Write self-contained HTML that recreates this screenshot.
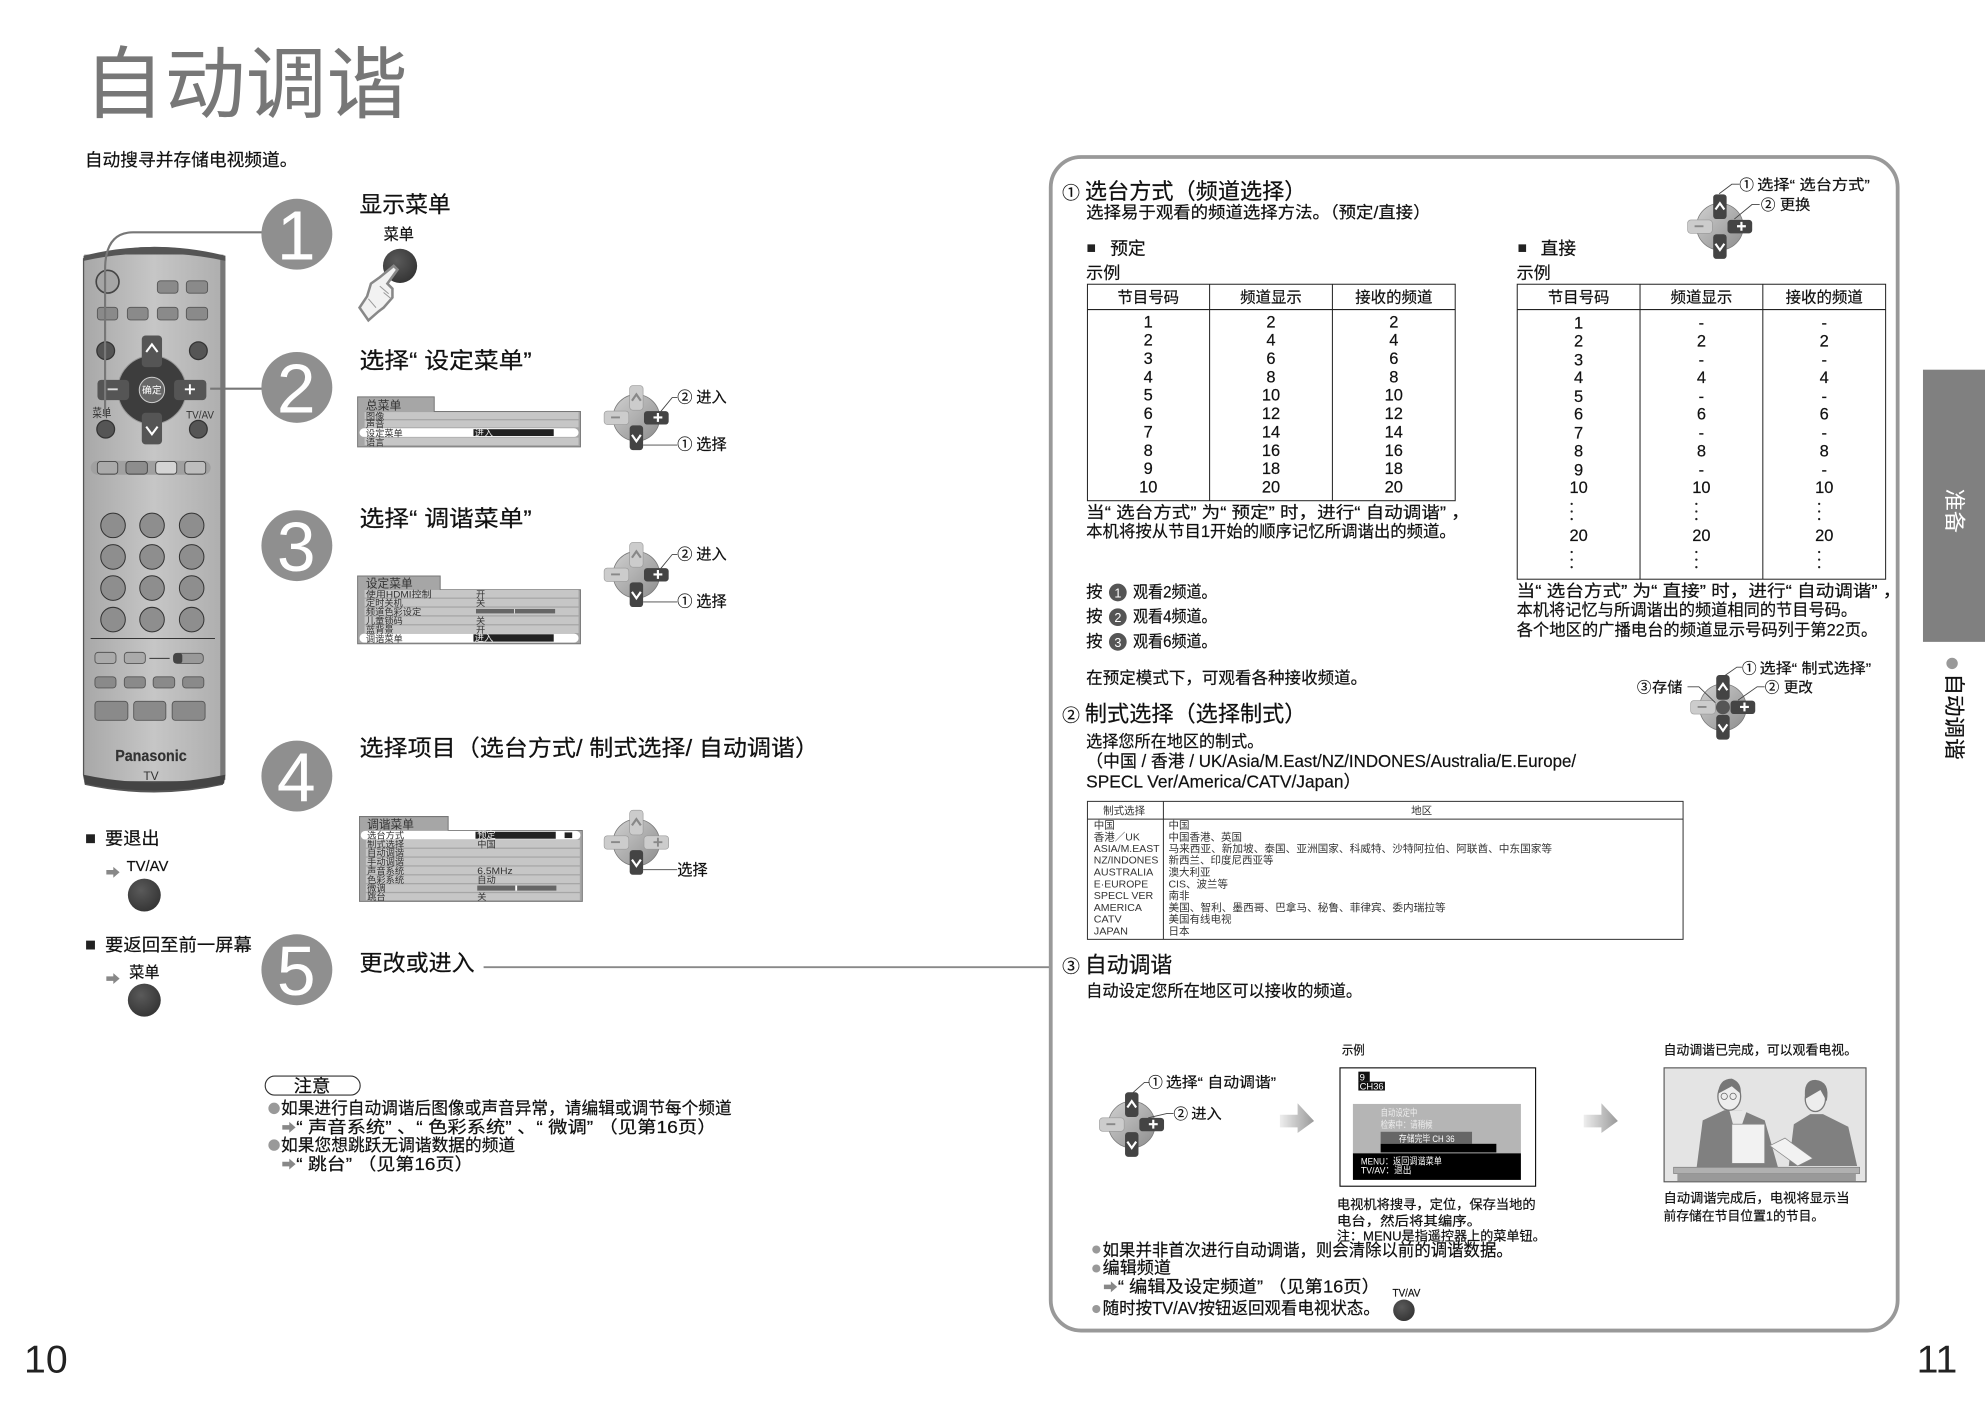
<!DOCTYPE html>
<html lang="zh"><head><meta charset="utf-8"><title>自动调谐</title>
<style>
html,body{margin:0;padding:0;background:#fff}
svg{display:block;font-family:"Liberation Sans","Noto Sans CJK SC",sans-serif;fill:#111}
text{stroke:#111;stroke-width:.16px}
text[style]{stroke:none}
.c{text-anchor:middle}
.m{font-size:7.3px;fill:#333;stroke:none}
.n{font-size:13px}
.h{font-size:12.2px}
.r{font-size:8.3px;fill:#333;stroke:none}
</style></head><body>
<svg xmlns="http://www.w3.org/2000/svg" width="1985" height="1404" viewBox="0 0 1568 1109">
<defs>
<linearGradient id="gb" x1="0" x2="1" y1="0" y2="0"><stop offset="0" stop-color="#a8a8a8"/><stop offset=".5" stop-color="#c6c6c6"/><stop offset="1" stop-color="#aeaeae"/></linearGradient>
<linearGradient id="gc" x1="0" x2="1" y1="0" y2="1"><stop offset="0" stop-color="#d0d0d0"/><stop offset="1" stop-color="#8d8d8d"/></linearGradient>
<linearGradient id="ga" x1="0" x2="1" y1="0" y2="0"><stop offset="0" stop-color="#eee"/><stop offset="1" stop-color="#999"/></linearGradient>
<radialGradient id="gk" cx=".4" cy=".35" r=".8"><stop offset="0" stop-color="#5a5a5a"/><stop offset="1" stop-color="#2e2e2e"/></radialGradient>
<g id="base"><circle r="18.4" fill="url(#gc)" stroke="#777" stroke-width=".6"/></g>
<g id="upD"><rect x="-5.3" y="-25.5" width="10.6" height="19.5" rx="2.5" fill="#444"/><path d="M-3.5-13.5 0-18.5 3.5-13.5" fill="none" stroke="#fff" stroke-width="1.7"/></g>
<g id="upL"><rect x="-5.3" y="-25.5" width="10.6" height="19.5" rx="2.5" fill="#ccc" stroke="#999" stroke-width=".5"/><path d="M-3.5-13.5 0-18.5 3.5-13.5" fill="none" stroke="#888" stroke-width="1.7"/></g>
<g id="dnD"><rect x="-5.3" y="6" width="10.6" height="19.5" rx="2.5" fill="#444"/><path d="M-3.5 13.5 0 18.5 3.5 13.5" fill="none" stroke="#fff" stroke-width="1.7"/></g>
<g id="mnL"><rect x="-25.5" y="-5.3" width="19.5" height="10.6" rx="2.5" fill="#ccc" stroke="#999" stroke-width=".5"/><path d="M-20-.3h7" stroke="#888" stroke-width="1.5"/></g>
<g id="plD"><rect x="6" y="-5.3" width="19.5" height="10.6" rx="2.5" fill="#444"/><path d="M13.5-.3h7M17-3.8v7" stroke="#fff" stroke-width="1.7"/></g>
<g id="plL"><rect x="6" y="-5.3" width="19.5" height="10.6" rx="2.5" fill="#ccc" stroke="#999" stroke-width=".5"/><path d="M13.5-.3h7M17-3.8v7" stroke="#888" stroke-width="1.5"/></g>
<path id="arr" d="M0-1.8h5.5v-2.5L10.5 0 5.5 4.3v-2.5H0z" fill="#888"/>
<path id="bigarr" d="M0-5h14v-9L27 0 14 9.500V5H0z" fill="url(#ga)"/>
</defs>

<!-- title -->
<text x="66" y="88" font-size="62" textLength="256" lengthAdjust="spacingAndGlyphs" style="fill:#777">自动调谐</text>
<text x="67" y="131" font-size="14" textLength="168" lengthAdjust="spacingAndGlyphs">自动搜寻并存储电视频道。</text>

<!-- remote -->
<path d="M65.500 204Q122 186 178 204V612L176 620Q122 632 67 620L65.500 612Z" fill="#555"/>
<rect x="66.500" y="201" width="110" height="416" fill="url(#gb)"/>
<rect x="174" y="202" width="4" height="414" fill="#777"/>
<path d="M66 202Q122 188 178 202V206Q122 194 66 206Z" fill="#555"/>
<path d="M66 612Q122 624 178 612L177 619Q122 630 67 619Z" fill="#444"/>
<circle cx="85" cy="222.500" r="9" fill="#a5a5a5" stroke="#444" stroke-width="1.300"/>
<g fill="#8a8a8a" stroke="#555" stroke-width=".7">
<rect x="124.300" y="221.800" width="16.300" height="9.800" rx="2.500"/><rect x="147.200" y="221.800" width="16.800" height="9.800" rx="2.500"/>
<rect x="76.900" y="242.700" width="16.100" height="10" rx="2.500"/><rect x="100.600" y="242.700" width="16.400" height="10" rx="2.500"/><rect x="124.300" y="242.700" width="16.300" height="10" rx="2.500"/><rect x="147.200" y="242.700" width="16.800" height="10" rx="2.500"/>
</g>
<circle cx="83.500" cy="277" r="7" fill="#555" stroke="#333"/><circle cx="156.700" cy="277" r="7" fill="#555" stroke="#333"/>
<circle cx="120" cy="308" r="27" fill="#3d3d3d" stroke="#999" stroke-width=".8"/>
<rect x="112" y="265" width="16" height="25" rx="3" fill="#555"/><path d="M115.500 278 120 272 124.500 278" fill="none" stroke="#fff" stroke-width="1.600"/>
<rect x="112" y="326" width="16" height="25" rx="3" fill="#555"/><path d="M115.500 337 120 343 124.500 337" fill="none" stroke="#fff" stroke-width="1.600"/>
<rect x="77" y="300" width="25" height="16" rx="3" fill="#555"/><path d="M85 307.500h8" stroke="#ddd" stroke-width="1.500"/>
<rect x="137.500" y="300" width="25.500" height="16" rx="3" fill="#555"/><path d="M146 307.500h8M150 303.500v8" stroke="#fff" stroke-width="1.500"/>
<circle cx="120" cy="308" r="10" fill="#666" stroke="#ccc" stroke-width=".8"/>
<text x="120" y="310.800" class="c" font-size="7.800" style="fill:#fff">确定</text>
<text x="73" y="329.500" font-size="9.500" textLength="15" lengthAdjust="spacingAndGlyphs" style="fill:#333">菜单</text>
<text x="147" y="330.500" font-size="9" textLength="22" lengthAdjust="spacingAndGlyphs" style="fill:#333">TV/AV</text>
<circle cx="83.500" cy="339" r="7" fill="#555" stroke="#333"/><circle cx="156.700" cy="339" r="7" fill="#555" stroke="#333"/>
<rect x="71.600" y="364" width="94.800" height="11" rx="5.500" fill="#a0a0a0"/>
<rect x="76.900" y="364.500" width="16.100" height="10" rx="2.500" fill="#aaa" stroke="#444" stroke-width=".7"/>
<rect x="99.500" y="364.500" width="16.900" height="10" rx="2.500" fill="#8d8d8d" stroke="#444" stroke-width=".7"/>
<rect x="123" y="364.500" width="16.600" height="10" rx="2.500" fill="#d4d4d4" stroke="#444" stroke-width=".7"/>
<rect x="146" y="364.500" width="16.500" height="10" rx="2.500" fill="#bdbdbd" stroke="#444" stroke-width=".7"/>
<g fill="#8e8e8e" stroke="#333" stroke-width=".8">
<circle cx="89.300" cy="415" r="9.700"/><circle cx="120.100" cy="415" r="9.700"/><circle cx="151.400" cy="415" r="9.700"/>
<circle cx="89.300" cy="439.900" r="9.700"/><circle cx="120.100" cy="439.900" r="9.700"/><circle cx="151.400" cy="439.900" r="9.700"/>
<circle cx="89.300" cy="464.500" r="9.700"/><circle cx="120.100" cy="464.500" r="9.700"/><circle cx="151.400" cy="464.500" r="9.700"/>
<circle cx="89.300" cy="489.400" r="9.700"/><circle cx="120.100" cy="489.400" r="9.700"/><circle cx="151.400" cy="489.400" r="9.700"/>
</g>
<path d="M71.600 504.300H169.800" stroke="#333" stroke-width=".8"/>
<path d="M118 520H134" stroke="#333" stroke-width=".8"/>
<g stroke="#555" stroke-width=".7">
<rect x="75" y="515.300" width="16.600" height="8.800" rx="2.500" fill="#aaa"/><rect x="98.200" y="515.300" width="16.600" height="8.800" rx="2.500" fill="#aaa"/>
<rect x="137" y="516" width="23.600" height="8" rx="3" fill="#999"/>
<rect x="75" y="534.600" width="16.600" height="8.800" rx="2.500" fill="#8a8a8a"/><rect x="98.200" y="534.600" width="16.600" height="8.800" rx="2.500" fill="#8a8a8a"/><rect x="121" y="534.600" width="17" height="8.800" rx="2.500" fill="#8a8a8a"/><rect x="144.300" y="534.600" width="16.700" height="8.800" rx="2.500" fill="#8a8a8a"/>
<rect x="75" y="554" width="26" height="15" rx="2.500" fill="#8a8a8a"/><rect x="105.600" y="554" width="25.400" height="15" rx="2.500" fill="#8a8a8a"/><rect x="136" y="554" width="26" height="15" rx="2.500" fill="#8a8a8a"/>
</g>
<rect x="137" y="516" width="7" height="8" rx="2" fill="#444"/>
<text x="91" y="601" font-size="12.500" font-weight="bold" textLength="56.500" lengthAdjust="spacingAndGlyphs" stroke-width=".45" style="fill:#333;stroke:#333">Panasonic</text>
<text x="119.300" y="616" class="c" font-size="9.500" style="fill:#333">TV</text>

<!-- connectors -->
<path d="M207 183.500H105Q83 183.500 83 213V329" fill="none" stroke="#777" stroke-width="1.700"/>
<path d="M166 307H207" stroke="#777" stroke-width="1.700"/>
<path d="M382 764H831" stroke="#888" stroke-width="1.500"/>

<!-- numbered circles -->
<g fill="#8f8f8f">
<circle cx="234.500" cy="185" r="28"/><circle cx="234.500" cy="306" r="28"/><circle cx="234.500" cy="431" r="28"/><circle cx="234.500" cy="613" r="28"/><circle cx="234.500" cy="766" r="28"/>
</g>
<g font-size="55" class="c">
<text x="234" y="205" style="fill:#fff">1</text><text x="234" y="326" style="fill:#fff">2</text><text x="234" y="451" style="fill:#fff">3</text><text x="234" y="633" style="fill:#fff">4</text><text x="234" y="786" style="fill:#fff">5</text>
</g>

<!-- step texts -->
<text x="284" y="168" font-size="18" textLength="72" lengthAdjust="spacingAndGlyphs">显示菜单</text>
<text x="303" y="189" font-size="12" textLength="24" lengthAdjust="spacingAndGlyphs">菜单</text>
<circle cx="316" cy="210" r="13.500" fill="url(#gk)"/>
<path d="M284 243 291 253 299 246 303 243 310 235 310 228 306 224 314 213 311 210 300 219 293 224 290 234Z" fill="#f2f2f2" stroke="#888" stroke-width="2"/>
<path d="M291 236 297 243M300 226 307 232M303 231 309 236" fill="none" stroke="#999" stroke-width=".8"/>
<text x="284" y="291" font-size="18" textLength="136" lengthAdjust="spacingAndGlyphs">选择“ 设定菜单”</text>
<text x="284" y="416" font-size="18" textLength="136" lengthAdjust="spacingAndGlyphs">选择“ 调谐菜单”</text>
<text x="284" y="597" font-size="18" textLength="363" lengthAdjust="spacingAndGlyphs">选择项目（选台方式/ 制式选择/ 自动调谐）</text>
<text x="284" y="767" font-size="18" textLength="91" lengthAdjust="spacingAndGlyphs">更改或进入</text>

<!-- menu 1 -->
<path d="M282.500 353V313.500H343V325H458.500V353Z" fill="#a6a6a6" stroke="#777" stroke-width=".8"/>
<g fill="#c6c6c6"><rect x="288" y="325.500" width="169" height="5.500"/><rect x="288" y="332" width="169" height="5.500"/><rect x="288" y="345.600" width="169" height="6"/></g>
<rect x="284" y="338.300" width="173" height="6.800" rx="3.400" fill="#fff"/>
<rect x="374" y="339" width="63.400" height="5.400" fill="#222"/>
<text x="289" y="323.500" font-size="9.500" textLength="28" lengthAdjust="spacingAndGlyphs" style="fill:#333">总菜单</text>
<text x="289" y="331.200" class="m">图像</text><text x="289" y="337.800" class="m">声音</text><text x="289" y="344.800" class="m">设定菜单</text><text x="289" y="351.800" class="m">语言</text>
<text x="375" y="344.500" class="m" style="fill:#eee">进入</text>

<!-- menu 2 -->
<path d="M282.500 508.500V455H347.700V465.800H458.500V508.500Z" fill="#a6a6a6" stroke="#777" stroke-width=".8"/>
<g fill="#c6c6c6"><rect x="288" y="466" width="169" height="6"/><rect x="288" y="473" width="169" height="6"/><rect x="288" y="480" width="169" height="6"/><rect x="288" y="487" width="169" height="6"/><rect x="288" y="494" width="169" height="6"/></g>
<rect x="284" y="500.500" width="173" height="7" rx="3.500" fill="#fff"/>
<rect x="374" y="501" width="63.400" height="5.800" fill="#222"/>
<text x="289" y="464" font-size="9.500" textLength="37" lengthAdjust="spacingAndGlyphs" style="fill:#333">设定菜单</text>
<text x="289" y="471.800" class="m" textLength="52" lengthAdjust="spacingAndGlyphs">使用HDMI控制</text><text x="289" y="478.800" class="m">定时关机</text><text x="289" y="485.800" class="m">频道色彩设定</text><text x="289" y="492.800" class="m">儿童锁码</text><text x="289" y="499.800" class="m">蓝背景</text><text x="289" y="507" class="m">调谐菜单</text>
<text x="376" y="471.800" class="m">开</text><text x="376" y="478.800" class="m">关</text><text x="376" y="492.800" class="m">关</text><text x="376" y="499.800" class="m">开</text><text x="375" y="506.500" class="m" style="fill:#eee">进入</text>
<rect x="376" y="481" width="62.500" height="3.500" fill="#666"/><rect x="406.200" y="481" width=".6" height="3.500" fill="#fff"/>

<!-- menu 3 -->
<path d="M284 712V645H354V656H460V712Z" fill="#a6a6a6" stroke="#777" stroke-width=".8"/>
<g fill="#c6c6c6"><rect x="289" y="663.500" width="169" height="6"/><rect x="289" y="670.500" width="169" height="6"/><rect x="289" y="677.500" width="169" height="6"/><rect x="289" y="684.500" width="169" height="6"/><rect x="289" y="691.500" width="169" height="6"/><rect x="289" y="698.500" width="169" height="6"/><rect x="289" y="705.500" width="169" height="5.500"/></g>
<rect x="285" y="656.300" width="173.500" height="6.800" rx="3.400" fill="#fff"/>
<rect x="375.600" y="657" width="63.400" height="5.500" fill="#222"/>
<rect x="446" y="657.500" width="6" height="4.500" fill="#222"/>
<text x="290" y="654.500" font-size="9.500" textLength="37" lengthAdjust="spacingAndGlyphs" style="fill:#333">调谐菜单</text>
<text x="290" y="662.500" class="m">选台方式</text><text x="290" y="669.500" class="m">制式选择</text><text x="290" y="676.300" class="m">自动调谐</text><text x="290" y="683.300" class="m">手动调谐</text><text x="290" y="690.300" class="m">声音系统</text><text x="290" y="697.300" class="m">色彩系统</text><text x="290" y="704.300" class="m">微调</text><text x="290" y="710.800" class="m">跳台</text>
<text x="377" y="662" class="m" style="fill:#eee">预定</text><text x="377" y="669.500" class="m">中国</text><text x="377" y="690.300" class="m" textLength="28" lengthAdjust="spacingAndGlyphs">6.5MHz</text><text x="377" y="697.300" class="m">自动</text><text x="377" y="710.800" class="m">关</text>
<rect x="377" y="699.500" width="62.500" height="4" fill="#666"/><rect x="407" y="699.500" width="1.500" height="4" fill="#fff"/>

<!-- dpads step 2,3,4 -->
<g transform="translate(502.700 330)"><use href="#base"/><use href="#upL"/><use href="#mnL"/><use href="#plD"/><use href="#dnD"/></g>
<path d="M522 325 531 314H535M508 351.500H535" fill="none" stroke="#444" stroke-width=".7"/>
<text x="535" y="318" font-size="12">②</text><text x="550" y="318" font-size="12" textLength="24" lengthAdjust="spacingAndGlyphs">进入</text>
<text x="535" y="355" font-size="12">①</text><text x="550" y="355" font-size="12" textLength="24" lengthAdjust="spacingAndGlyphs">选择</text>
<g transform="translate(502.700 454)"><use href="#base"/><use href="#upL"/><use href="#mnL"/><use href="#plD"/><use href="#dnD"/></g>
<path d="M522 449 531 438H535M508 475.500H535" fill="none" stroke="#444" stroke-width=".7"/>
<text x="535" y="442" font-size="12">②</text><text x="550" y="442" font-size="12" textLength="24" lengthAdjust="spacingAndGlyphs">进入</text>
<text x="535" y="479" font-size="12">①</text><text x="550" y="479" font-size="12" textLength="24" lengthAdjust="spacingAndGlyphs">选择</text>
<g transform="translate(502.700 665.500)"><use href="#base"/><use href="#upL"/><use href="#mnL"/><use href="#plL"/><use href="#dnD"/></g>
<path d="M508 687H535" stroke="#444" stroke-width=".7"/>
<text x="535" y="691" font-size="12" textLength="24" lengthAdjust="spacingAndGlyphs">选择</text>

<!-- exit / return -->
<rect x="68" y="659" width="7" height="7" fill="#222"/>
<text x="83" y="667" font-size="14" textLength="43" lengthAdjust="spacingAndGlyphs">要退出</text>
<use href="#arr" x="84" y="689"/>
<text x="100" y="688" font-size="12" textLength="33" lengthAdjust="spacingAndGlyphs">TV/AV</text>
<circle cx="114" cy="707" r="13" fill="url(#gk)"/>
<rect x="68" y="743" width="7" height="7" fill="#222"/>
<text x="83" y="751" font-size="14" textLength="116" lengthAdjust="spacingAndGlyphs">要返回至前一屏幕</text>
<use href="#arr" x="84" y="773"/>
<text x="102" y="772" font-size="12" textLength="24" lengthAdjust="spacingAndGlyphs">菜单</text>
<circle cx="114" cy="790" r="13" fill="url(#gk)"/>

<!-- notes -->
<rect x="209.500" y="850" width="75" height="15" rx="7.500" fill="none" stroke="#333" stroke-width=".9"/>
<text x="232" y="862.500" font-size="14" textLength="29" lengthAdjust="spacingAndGlyphs">注意</text>
<circle cx="216.500" cy="875.500" r="4.500" fill="#999"/>
<text x="222" y="880" font-size="13.500" textLength="356" lengthAdjust="spacingAndGlyphs">如果进行自动调谐后图像或声音异常，请编辑或调节每个频道</text>
<use href="#arr" x="223" y="890.500"/>
<text x="234" y="895" font-size="13.500" textLength="332" lengthAdjust="spacingAndGlyphs">“ 声音系统” 、“ 色彩系统” 、“ 微调” （见第16页）</text>
<circle cx="216.500" cy="904.500" r="4.500" fill="#999"/>
<text x="222" y="909" font-size="13.500" textLength="185" lengthAdjust="spacingAndGlyphs">如果您想跳跃无调谐数据的频道</text>
<use href="#arr" x="223" y="919.500"/>
<text x="234" y="924" font-size="13.500" textLength="140" lengthAdjust="spacingAndGlyphs">“ 跳台” （见第16页）</text>

<!-- page numbers -->
<text x="19" y="1084" font-size="31" style="fill:#222">10</text>
<text x="1514" y="1084" font-size="31" style="fill:#222">11</text>

<!-- panel -->
<rect x="830" y="124" width="669" height="927" rx="24" fill="#fff" stroke="#999" stroke-width="3"/>

<text x="839" y="157" font-size="14">①</text>
<text x="857" y="157" font-size="17.500" textLength="175" lengthAdjust="spacingAndGlyphs">选台方式（频道选择）</text>
<text x="858" y="172" font-size="13" textLength="272" lengthAdjust="spacingAndGlyphs">选择易于观看的频道选择方法。（预定/直接）</text>

<rect x="859" y="193" width="6" height="6" fill="#222"/>
<text x="877" y="201" font-size="14" textLength="28" lengthAdjust="spacingAndGlyphs">预定</text>
<text x="858" y="220" font-size="13" textLength="27" lengthAdjust="spacingAndGlyphs">示例</text>
<rect x="1199.500" y="193" width="6" height="6" fill="#222"/>
<text x="1217" y="201" font-size="14" textLength="28" lengthAdjust="spacingAndGlyphs">直接</text>
<text x="1198" y="220" font-size="13" textLength="27" lengthAdjust="spacingAndGlyphs">示例</text>

<!-- tables -->
<g fill="none" stroke="#222" stroke-width=".8">
<rect x="859" y="224.500" width="290.500" height="171"/><path d="M859 244.500H1149.500M955.500 224.500V395.500M1052.500 224.500V395.500"/>
<rect x="1198.500" y="224.500" width="291" height="233"/><path d="M1198.500 244.500H1489.500M1295.500 224.500V457.500M1392.500 224.500V457.500"/>
</g>
<text x="907" y="239" class="c h">节目号码</text><text x="1004" y="239" class="c h">频道显示</text><text x="1101" y="239" class="c h">接收的频道</text>
<text x="1247" y="239" class="c h">节目号码</text><text x="1344" y="239" class="c h">频道显示</text><text x="1441" y="239" class="c h">接收的频道</text>
<text x="907" y="258.500" class="c n">1</text><text x="1004" y="258.500" class="c n">2</text><text x="1101" y="258.500" class="c n">2</text>
<text x="907" y="273" class="c n">2</text><text x="1004" y="273" class="c n">4</text><text x="1101" y="273" class="c n">4</text>
<text x="907" y="287.500" class="c n">3</text><text x="1004" y="287.500" class="c n">6</text><text x="1101" y="287.500" class="c n">6</text>
<text x="907" y="302" class="c n">4</text><text x="1004" y="302" class="c n">8</text><text x="1101" y="302" class="c n">8</text>
<text x="907" y="316.500" class="c n">5</text><text x="1004" y="316.500" class="c n">10</text><text x="1101" y="316.500" class="c n">10</text>
<text x="907" y="331" class="c n">6</text><text x="1004" y="331" class="c n">12</text><text x="1101" y="331" class="c n">12</text>
<text x="907" y="345.500" class="c n">7</text><text x="1004" y="345.500" class="c n">14</text><text x="1101" y="345.500" class="c n">14</text>
<text x="907" y="360" class="c n">8</text><text x="1004" y="360" class="c n">16</text><text x="1101" y="360" class="c n">16</text>
<text x="907" y="374.500" class="c n">9</text><text x="1004" y="374.500" class="c n">18</text><text x="1101" y="374.500" class="c n">18</text>
<text x="907" y="389" class="c n">10</text><text x="1004" y="389" class="c n">20</text><text x="1101" y="389" class="c n">20</text>

<text x="1247" y="259.500" class="c n">1</text><text x="1344" y="259.500" class="c n">-</text><text x="1441" y="259.500" class="c n">-</text>
<text x="1247" y="273.500" class="c n">2</text><text x="1344" y="273.500" class="c n">2</text><text x="1441" y="273.500" class="c n">2</text>
<text x="1247" y="288.500" class="c n">3</text><text x="1344" y="288.500" class="c n">-</text><text x="1441" y="288.500" class="c n">-</text>
<text x="1247" y="302.500" class="c n">4</text><text x="1344" y="302.500" class="c n">4</text><text x="1441" y="302.500" class="c n">4</text>
<text x="1247" y="317.500" class="c n">5</text><text x="1344" y="317.500" class="c n">-</text><text x="1441" y="317.500" class="c n">-</text>
<text x="1247" y="331.500" class="c n">6</text><text x="1344" y="331.500" class="c n">6</text><text x="1441" y="331.500" class="c n">6</text>
<text x="1247" y="346.500" class="c n">7</text><text x="1344" y="346.500" class="c n">-</text><text x="1441" y="346.500" class="c n">-</text>
<text x="1247" y="360.500" class="c n">8</text><text x="1344" y="360.500" class="c n">8</text><text x="1441" y="360.500" class="c n">8</text>
<text x="1247" y="375.500" class="c n">9</text><text x="1344" y="375.500" class="c n">-</text><text x="1441" y="375.500" class="c n">-</text>
<text x="1247" y="389.500" class="c n">10</text><text x="1344" y="389.500" class="c n">10</text><text x="1441" y="389.500" class="c n">10</text>
<text x="1247" y="427.500" class="c n">20</text><text x="1344" y="427.500" class="c n">20</text><text x="1441" y="427.500" class="c n">20</text>
<g fill="#222">
<circle cx="1241.500" cy="398" r=".9"/><circle cx="1241.500" cy="404" r=".9"/><circle cx="1241.500" cy="410" r=".9"/><circle cx="1241.500" cy="436" r=".9"/><circle cx="1241.500" cy="442" r=".9"/><circle cx="1241.500" cy="448" r=".9"/>
<circle cx="1340" cy="398" r=".9"/><circle cx="1340" cy="404" r=".9"/><circle cx="1340" cy="410" r=".9"/><circle cx="1340" cy="436" r=".9"/><circle cx="1340" cy="442" r=".9"/><circle cx="1340" cy="448" r=".9"/>
<circle cx="1437" cy="398" r=".9"/><circle cx="1437" cy="404" r=".9"/><circle cx="1437" cy="410" r=".9"/><circle cx="1437" cy="436" r=".9"/><circle cx="1437" cy="442" r=".9"/><circle cx="1437" cy="448" r=".9"/>
</g>

<text x="858" y="409" font-size="13" textLength="303" lengthAdjust="spacingAndGlyphs">当“ 选台方式” 为“ 预定” 时，进行“ 自动调谐” ，</text>
<text x="858" y="424" font-size="13" textLength="292" lengthAdjust="spacingAndGlyphs">本机将按从节目1开始的顺序记忆所调谐出的频道。</text>
<text x="1198" y="471" font-size="13" textLength="304" lengthAdjust="spacingAndGlyphs">当“ 选台方式” 为“ 直接” 时，进行“ 自动调谐” ，</text>
<text x="1198" y="486" font-size="13" textLength="269" lengthAdjust="spacingAndGlyphs">本机将记忆与所调谐出的频道相同的节目号码。</text>
<text x="1198" y="502" font-size="13" textLength="285" lengthAdjust="spacingAndGlyphs">各个地区的广播电台的频道显示号码列于第22页。</text>

<text x="858" y="472" font-size="13">按</text><circle cx="883" cy="468" r="7" fill="#555"/><text x="883" y="472" class="c" font-size="10" style="fill:#fff">1</text><text x="895" y="472" font-size="13" textLength="66" lengthAdjust="spacingAndGlyphs">观看2频道。</text>
<text x="858" y="491.500" font-size="13">按</text><circle cx="883" cy="487.500" r="7" fill="#555"/><text x="883" y="491.500" class="c" font-size="10" style="fill:#fff">2</text><text x="895" y="491.500" font-size="13" textLength="66" lengthAdjust="spacingAndGlyphs">观看4频道。</text>
<text x="858" y="511" font-size="13">按</text><circle cx="883" cy="507" r="7" fill="#555"/><text x="883" y="511" class="c" font-size="10" style="fill:#fff">3</text><text x="895" y="511" font-size="13" textLength="66" lengthAdjust="spacingAndGlyphs">观看6频道。</text>
<text x="858" y="540" font-size="13" textLength="222" lengthAdjust="spacingAndGlyphs">在预定模式下，可观看各种接收频道。</text>

<text x="839" y="570" font-size="14">②</text>
<text x="857" y="570" font-size="17.500" textLength="175" lengthAdjust="spacingAndGlyphs">制式选择（选择制式）</text>
<text x="858" y="590" font-size="13" textLength="140" lengthAdjust="spacingAndGlyphs">选择您所在地区的制式。</text>
<text x="858" y="606" font-size="13.500" textLength="387" lengthAdjust="spacingAndGlyphs">（中国 / 香港 / UK/Asia/M.East/NZ/INDONES/Australia/E.Europe/</text>
<text x="858" y="622" font-size="13.500" textLength="217" lengthAdjust="spacingAndGlyphs">SPECL Ver/America/CATV/Japan）</text>

<g fill="none" stroke="#333" stroke-width=".8"><rect x="859" y="633" width="470.500" height="109"/><path d="M859 647H1329.500M919 633V742"/></g>
<text x="888" y="643" class="c" font-size="8.300" style="fill:#333">制式选择</text><text x="1123" y="643" class="c" font-size="8.300" style="fill:#333">地区</text>
<text x="864" y="654.500" class="r">中国</text><text x="923" y="654.500" class="r">中国</text>
<text x="864" y="664" class="r">香港／UK</text><text x="923" y="664" class="r">中国香港、英国</text>
<text x="864" y="673" class="r" textLength="52" lengthAdjust="spacingAndGlyphs">ASIA/M.EAST</text><text x="923" y="673" class="r" textLength="303" lengthAdjust="spacingAndGlyphs">马来西亚、新加坡、泰国、亚洲国家、科威特、沙特阿拉伯、阿联酋、中东国家等</text>
<text x="864" y="682" class="r" textLength="51" lengthAdjust="spacingAndGlyphs">NZ/INDONES</text><text x="923" y="682" class="r">新西兰、印度尼西亚等</text>
<text x="864" y="691.500" class="r" textLength="47" lengthAdjust="spacingAndGlyphs">AUSTRALIA</text><text x="923" y="691.500" class="r">澳大利亚</text>
<text x="864" y="701" class="r" textLength="43" lengthAdjust="spacingAndGlyphs">E·EUROPE</text><text x="923" y="701" class="r">CIS、波兰等</text>
<text x="864" y="710" class="r" textLength="47" lengthAdjust="spacingAndGlyphs">SPECL VER</text><text x="923" y="710" class="r">南非</text>
<text x="864" y="719.500" class="r" textLength="38" lengthAdjust="spacingAndGlyphs">AMERICA</text><text x="923" y="719.500" class="r" textLength="219" lengthAdjust="spacingAndGlyphs">美国、智利、墨西哥、巴拿马、秘鲁、菲律宾、委内瑞拉等</text>
<text x="864" y="728.500" class="r" textLength="22" lengthAdjust="spacingAndGlyphs">CATV</text><text x="923" y="728.500" class="r">美国有线电视</text>
<text x="864" y="738" class="r" textLength="27" lengthAdjust="spacingAndGlyphs">JAPAN</text><text x="923" y="738" class="r">日本</text>

<text x="839" y="768" font-size="14">③</text>
<text x="857" y="768" font-size="17.500" textLength="69" lengthAdjust="spacingAndGlyphs">自动调谐</text>
<text x="858" y="787" font-size="13" textLength="218" lengthAdjust="spacingAndGlyphs">自动设定您所在地区可以接收的频道。</text>

<!-- right dpads -->
<g transform="translate(1358.600 179)"><use href="#base"/><use href="#upD"/><use href="#mnL"/><use href="#plD"/><use href="#dnD"/></g>
<path d="M1358 153 1368 145.500H1374M1370 173 1384 161.500H1390" fill="none" stroke="#444" stroke-width=".7"/>
<text x="1374" y="150" font-size="11.500">①</text><text x="1388" y="150" font-size="11.500" textLength="89" lengthAdjust="spacingAndGlyphs">选择“ 选台方式”</text>
<text x="1391" y="166" font-size="11.500">②</text><text x="1406" y="166" font-size="11.500" textLength="24" lengthAdjust="spacingAndGlyphs">更换</text>

<g transform="translate(1361 558.700)"><use href="#base"/><use href="#upD"/><use href="#mnL"/><use href="#plD"/><use href="#dnD"/><circle r="5.500" fill="#555"/></g>
<path d="M1362 534 1372 527H1376M1373 553 1388 542.500H1394M1333 542.500H1342L1355 555" fill="none" stroke="#444" stroke-width=".7"/>
<text x="1376" y="532" font-size="11.500">①</text><text x="1390" y="532" font-size="11.500" textLength="88" lengthAdjust="spacingAndGlyphs">选择“ 制式选择”</text>
<text x="1394" y="547" font-size="11.500">②</text><text x="1409" y="547" font-size="11.500" textLength="23" lengthAdjust="spacingAndGlyphs">更改</text>
<text x="1293" y="547" font-size="11.500">③</text><text x="1305" y="547" font-size="11.500" textLength="24" lengthAdjust="spacingAndGlyphs">存储</text>

<g transform="translate(894 888.300)"><use href="#base"/><use href="#upD"/><use href="#mnL"/><use href="#plD"/><use href="#dnD"/></g>
<path d="M895 863 904 855H908M907 883 922 879.500H927" fill="none" stroke="#444" stroke-width=".7"/>
<text x="907" y="859" font-size="11.500">①</text><text x="921" y="859" font-size="11.500" textLength="87" lengthAdjust="spacingAndGlyphs">选择“ 自动调谐”</text>
<text x="927" y="884" font-size="11.500">②</text><text x="941" y="884" font-size="11.500" textLength="24" lengthAdjust="spacingAndGlyphs">进入</text>
<use href="#bigarr" x="1011" y="885.500"/><use href="#bigarr" x="1251" y="885.500"/>

<!-- example screen -->
<text x="1060" y="833" font-size="10" textLength="18" lengthAdjust="spacingAndGlyphs">示例</text>
<rect x="1058.500" y="843.500" width="154.500" height="93.500" fill="#fff" stroke="#111" stroke-width=".9"/>
<rect x="1073" y="846.500" width="9" height="8" fill="#111"/><rect x="1073" y="854.400" width="21" height="7" fill="#111"/>
<text x="1074" y="853.500" font-size="7.500" style="fill:#fff">9</text><text x="1074" y="860.500" font-size="7.500" textLength="19" lengthAdjust="spacingAndGlyphs" style="fill:#fff">CH36</text>
<rect x="1068.700" y="872" width="132.700" height="39" fill="#b5b5b5"/>
<rect x="1068.700" y="911" width="132.700" height="21" fill="#000"/>
<rect x="1090.600" y="894" width="72.200" height="9.500" fill="#666"/>
<rect x="1090.600" y="903.500" width="91.400" height="6.800" fill="#000"/>
<text x="1090.600" y="881.500" font-size="7.500" textLength="29" lengthAdjust="spacingAndGlyphs" style="fill:#eee">自动设定中</text>
<text x="1090.600" y="891" font-size="7.500" textLength="41" lengthAdjust="spacingAndGlyphs" style="fill:#eee">检索中：请稍候</text>
<text x="1105" y="902" font-size="7.500" textLength="44" lengthAdjust="spacingAndGlyphs" style="fill:#fff">存储完毕 CH 36</text>
<text x="1075" y="920" font-size="7.500" textLength="64" lengthAdjust="spacingAndGlyphs" style="fill:#fff">MENU：返回调谐菜单</text>
<text x="1075" y="927" font-size="7.500" textLength="40" lengthAdjust="spacingAndGlyphs" style="fill:#fff">TV/AV：退出</text>

<text x="1056" y="955" font-size="10.500" textLength="157" lengthAdjust="spacingAndGlyphs">电视机将搜寻，定位，保存当地的</text>
<text x="1056" y="968" font-size="10.500" textLength="114" lengthAdjust="spacingAndGlyphs">电台，然后将其编序。</text>
<text x="1056" y="980" font-size="10.500" textLength="165" lengthAdjust="spacingAndGlyphs">注：MENU是指遥控器上的菜单钮。</text>

<text x="1314" y="833" font-size="10.500" textLength="153" lengthAdjust="spacingAndGlyphs">自动调谐已完成，可以观看电视。</text>
<rect x="1314.500" y="843.500" width="159.500" height="90" fill="#e4e4e4" stroke="#555" stroke-width=".9"/>
<path d="M1340 924 1345 885 1362 877H1376L1394 885 1405 924Z" fill="#808080"/>
<path d="M1366 877 1372 900 1380 877Z" fill="#e8e8e8"/>
<ellipse cx="1366" cy="866" rx="9" ry="11" fill="#ededed" stroke="#777"/>
<path d="M1357 864Q1358 852 1368 852Q1376 855 1375 864L1368 858Z" fill="#777"/>
<circle cx="1362" cy="866" r="2.500" fill="none" stroke="#666" stroke-width=".6"/><circle cx="1369" cy="866" r="2.500" fill="none" stroke="#666" stroke-width=".6"/>
<rect x="1368" y="888" width="26" height="31" fill="#f2f2f2" stroke="#888" stroke-width=".6"/>
<path d="M1413 921 1417 888 1430 880H1440L1460 890 1467 921Z" fill="#808080"/>
<ellipse cx="1434" cy="868" rx="8" ry="10" fill="#ededed" stroke="#777"/>
<path d="M1426 868Q1424 853 1434 853Q1446 854 1443 870L1438 861Z" fill="#777"/>
<path d="M1398 905 1410 899 1432 915 1420 921Z" fill="#f2f2f2" stroke="#888" stroke-width=".6"/>
<rect x="1322" y="922" width="147" height="5" fill="#b0b0b0" stroke="#777" stroke-width=".5"/>
<rect x="1325" y="927" width="141" height="6" fill="#999"/>
<text x="1314" y="950" font-size="10.500" textLength="147" lengthAdjust="spacingAndGlyphs">自动调谐完成后，电视将显示当</text>
<text x="1314" y="964" font-size="10.500" textLength="127" lengthAdjust="spacingAndGlyphs">前存储在节目位置1的节目。</text>

<!-- bullets -->
<circle cx="866" cy="987" r="3.200" fill="#999"/>
<text x="871" y="992" font-size="13.500" textLength="324" lengthAdjust="spacingAndGlyphs">如果并非首次进行自动调谐，则会清除以前的调谐数据。</text>
<circle cx="866" cy="1002" r="3.200" fill="#999"/>
<text x="871" y="1006" font-size="13.500" textLength="54" lengthAdjust="spacingAndGlyphs">编辑频道</text>
<use href="#arr" x="872" y="1016.500"/>
<text x="883" y="1021" font-size="13.500" textLength="207" lengthAdjust="spacingAndGlyphs">“ 编辑及设定频道” （见第16页）</text>
<circle cx="866" cy="1034" r="3.200" fill="#999"/>
<text x="871" y="1038" font-size="13.500" textLength="219" lengthAdjust="spacingAndGlyphs">随时按TV/AV按钮返回观看电视状态。</text>
<text x="1100" y="1024" font-size="8.500" textLength="22" lengthAdjust="spacingAndGlyphs">TV/AV</text>
<circle cx="1109" cy="1035" r="8.500" fill="url(#gk)"/>

<!-- side tab -->
<rect x="1519" y="292" width="49" height="215" fill="#808080"/>
<text transform="translate(1538 386) rotate(90)" font-size="17" textLength="35" lengthAdjust="spacingAndGlyphs" style="fill:#fff">准备</text>
<circle cx="1542" cy="524" r="4.500" fill="#999"/>
<text transform="translate(1538 532) rotate(90)" font-size="16.500" textLength="68" lengthAdjust="spacingAndGlyphs">自动调谐</text>
</svg>
</body></html>
